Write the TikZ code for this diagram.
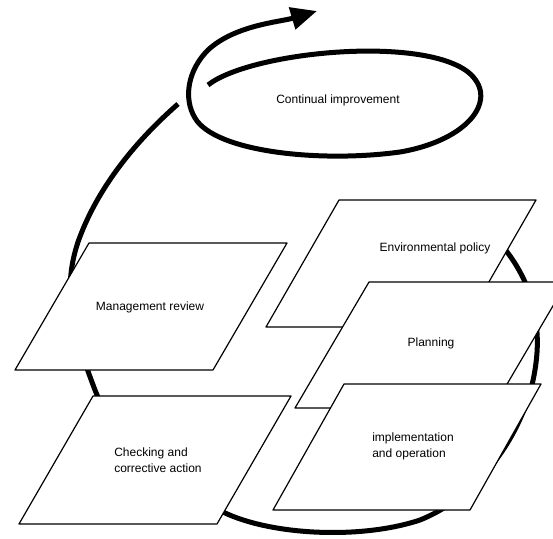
\documentclass[tikz,border=0pt]{standalone}
\usepackage{fontspec}
\setmainfont{Liberation Sans}
\usetikzlibrary{arrows.meta}
\tikzset{
  card/.style={draw=black, fill=white, line width=1.2pt, line join=round},
  cardtext/.style={font=\fontsize{12}{16}\selectfont, align=left, inner sep=0pt},
  loop/.style={draw=black, line width=5pt}
}
\begin{document}
\begin{tikzpicture}[x=1pt, y=-1pt]
      \clip (0,0) rectangle (553,538);
      % the big cycle, partly hidden behind the cards
      \draw[loop] (480,225) .. controls (500,240) and (515,260) .. (525,282)
        .. controls (540,320) and (540,350) .. (532,385)
        .. controls (515,450) and (470,500) .. (420,520)
        .. controls (360,540) and (270,535) .. (223,512)
        .. controls (160,480) and (110,430) .. (95,390)
        .. controls (72,330) and (62,290) .. (78,242)
        .. controls (100,180) and (145,133) .. (178,104);
      % continual improvement spiral
      \draw[loop, -{Triangle[length=26pt,width=22pt]}] (208,85)
        .. controls (250,52) and (420,35) .. (468,72)
        .. controls (500,98) and (470,140) .. (400,152)
        .. controls (320,163) and (215,152) .. (195,118)
        .. controls (183,98) and (188,70) .. (208,50)
        .. controls (235,25) and (280,22) .. (317,11);
      \node[cardtext] (improvement) at (338,100) {Continual improvement};
      \draw[card] (89,243) -- ++(198,0) -- ++(-74,127) -- ++(-198,0) -- cycle;
      \node[cardtext] (review) at (150,307) {Management review};
      \draw[card] (93,396) -- ++(198,0) -- ++(-74,128) -- ++(-198,0) -- cycle;
      \node[cardtext] (checking) at (158,460) {Checking and\\corrective action};
      \draw[card] (339,200) -- ++(197,0) -- ++(-73,127) -- ++(-197,0) -- cycle;
      \node[cardtext] (policy) at (435,248) {Environmental policy};
      \draw[card] (369,282) -- ++(198,0) -- ++(-74,126) -- ++(-198,0) -- cycle;
      \node[cardtext] (planning) at (431,343) {Planning};
      \draw[card] (344,384) -- ++(197,0) -- ++(-71,126) -- ++(-197,0) -- cycle;
      \node[cardtext] (operation) at (413,446) {implementation\\and operation};
    \end{tikzpicture}
\end{document}
